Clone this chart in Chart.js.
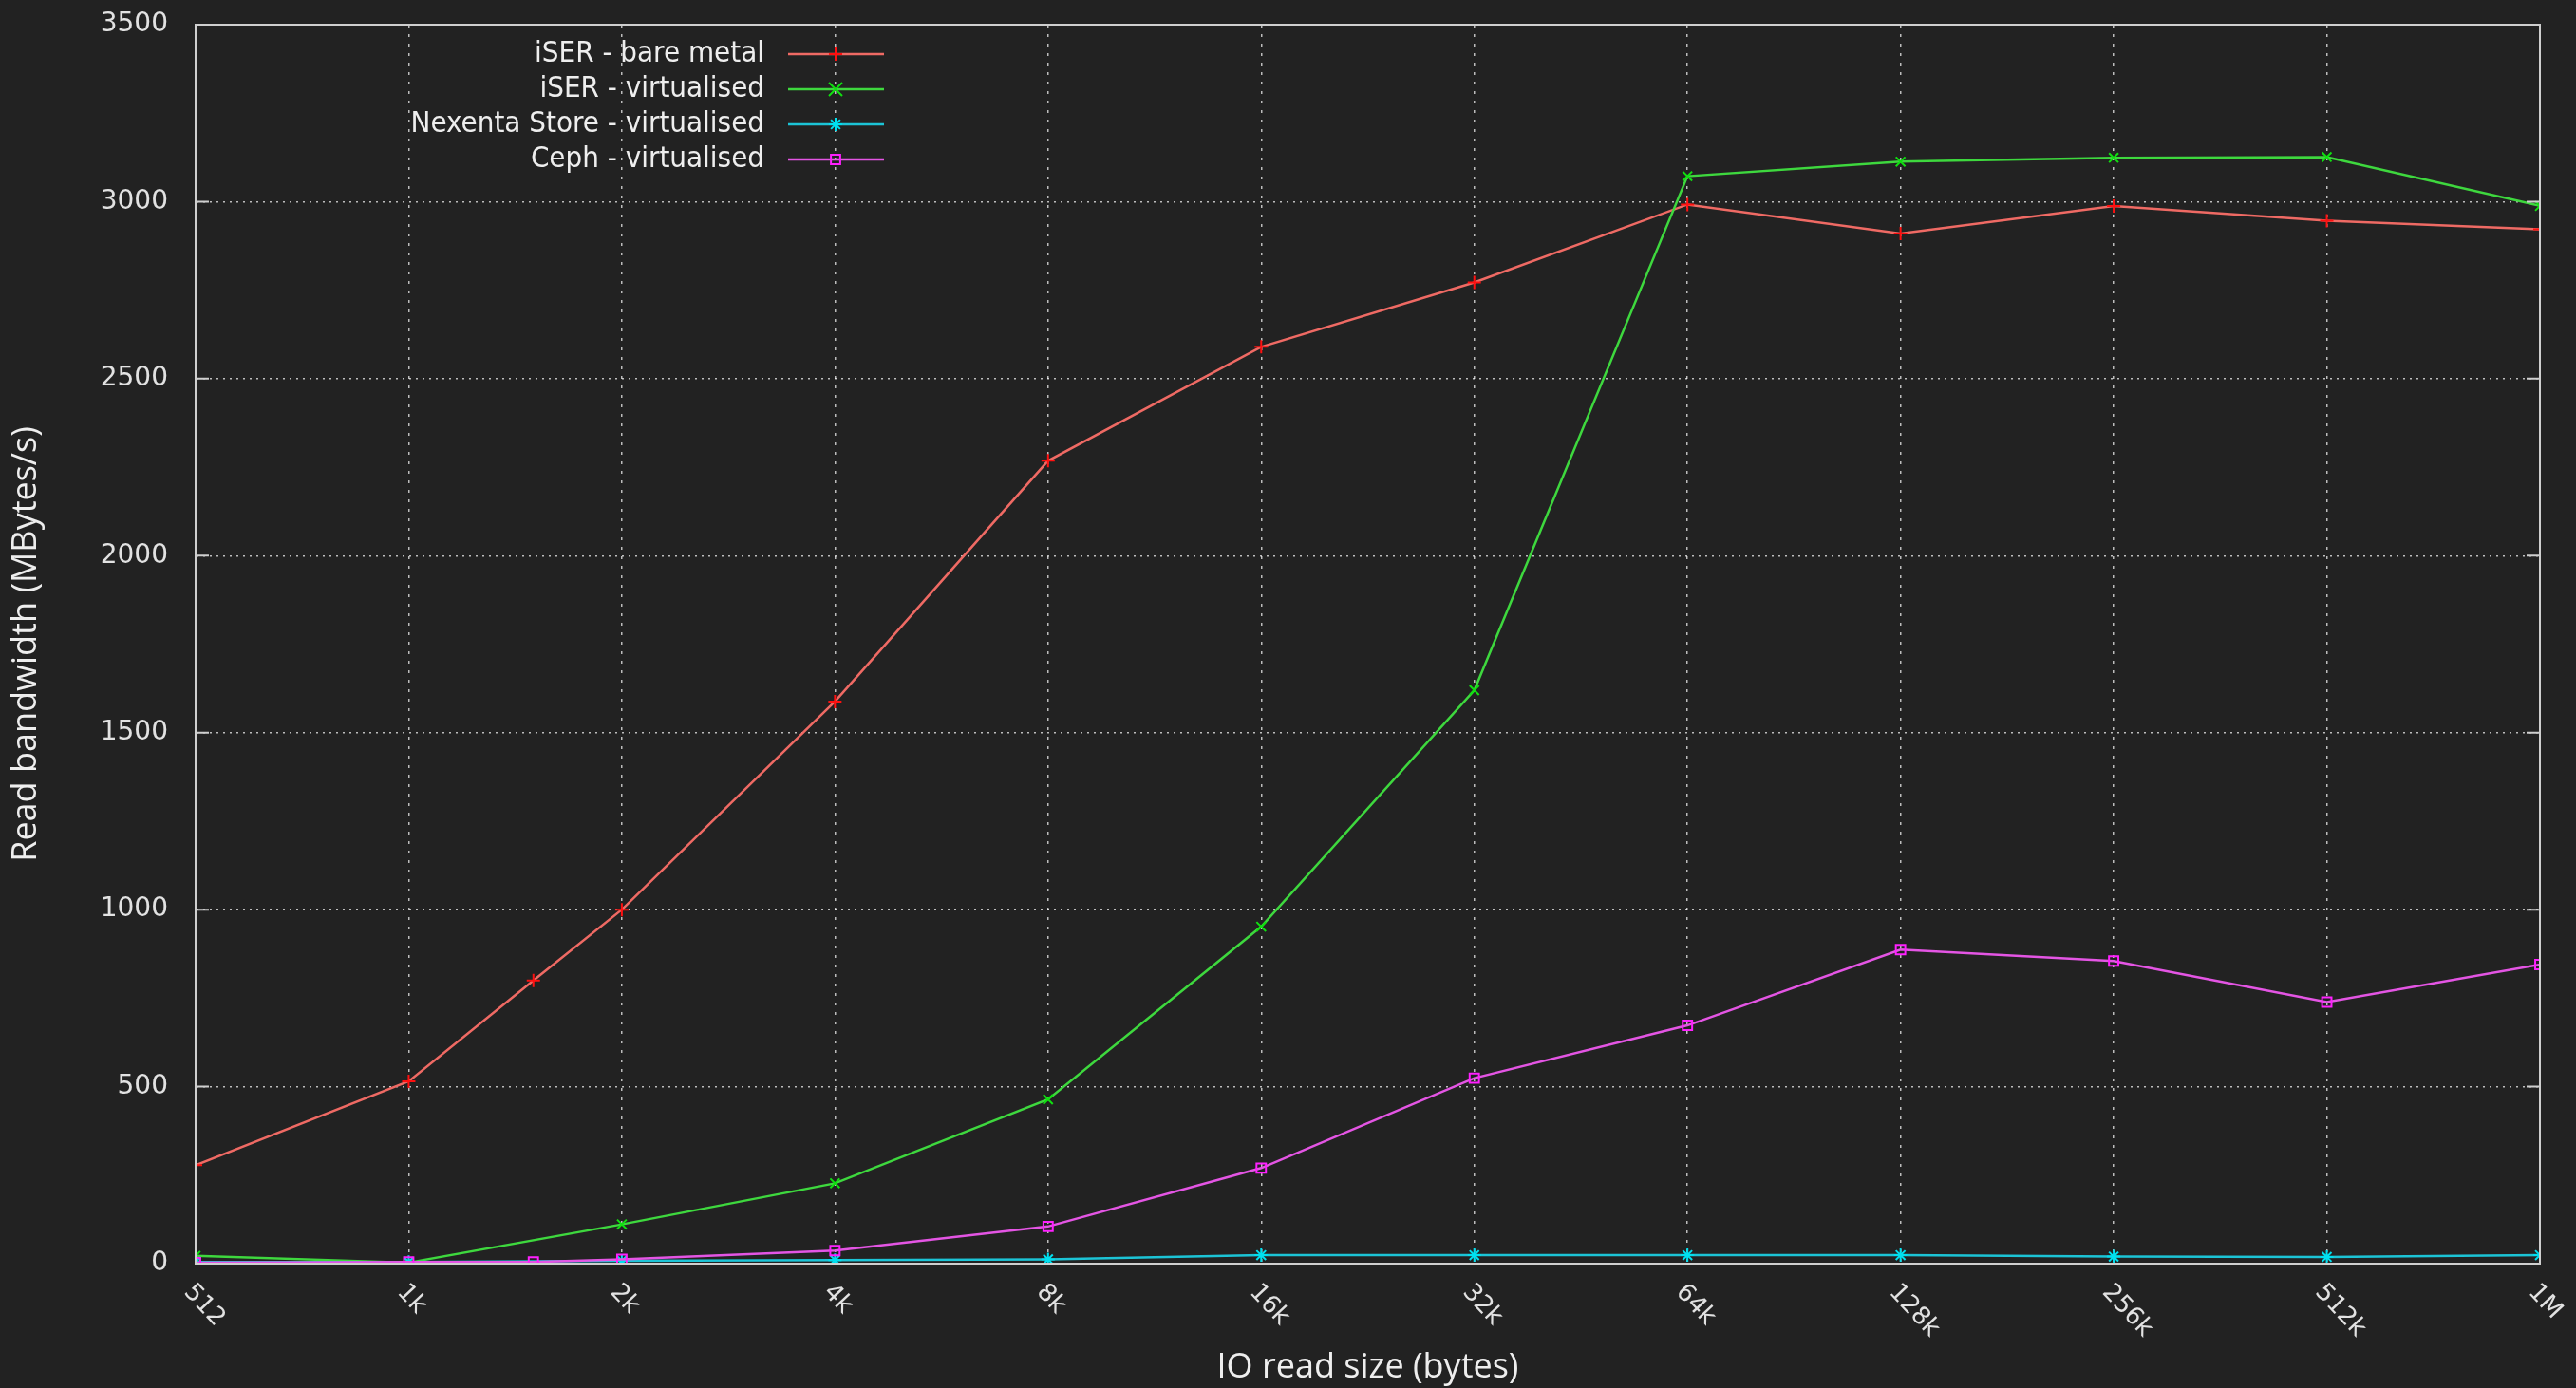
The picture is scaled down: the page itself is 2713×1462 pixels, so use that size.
<!DOCTYPE html>
<html>
<head>
<meta charset="utf-8">
<script src="https://cdn.jsdelivr.net/npm/chart.js@4/dist/chart.umd.min.js"></script>
<style>
  html, body { margin: 0; padding: 0; background: #222222; }
  #wrap { width: 2713px; height: 1462px; }
</style>
</head>
<body>
<div id="wrap"><canvas id="bwChart"></canvas></div>
<script>
// IO read sizes (bytes) and their axis labels
const tickSizes = [512, 1024, 2048, 4096, 8192, 16384, 32768, 65536, 131072, 262144, 524288, 1048576];
const sizeLabels = ['512', '1k', '2k', '4k', '8k', '16k', '32k', '64k', '128k', '256k', '512k', '1M'];
const readSizes = [512, 1024, 1536, 2048, 4096, 8192, 16384, 32768, 65536, 131072, 262144, 524288, 1048576];

// read bandwidth, MBytes/s
const iserBareMetal = [278, 515, 800, 1000, 1588, 2268, 2590, 2772, 2992, 2910, 2988, 2946, 2922];
const iserVirtualised = [22, 3, null, 111, 227, 464, 952, 1620, 3072, 3113, 3124, 3126, 2988];
const nexentaVirtualised = [5, 5, null, 8, 10, 12, 24, 24, 24, 24, 20, 19, 24];
const cephVirtualised = [3, 5, 5, 12, 37, 105, 270, 524, 673, 887, 855, 739, 845];

const yTicks = [0, 500, 1000, 1500, 2000, 2500, 3000, 3500];

const toPoints = vals => readSizes.map((s, i) => ({ x: s, y: vals[i] }));

const condensed = '"DejaVu Sans Condensed", "Liberation Sans Narrow", "Roboto Condensed", "DejaVu Sans", sans-serif';

function drawMarker(ctx, style, x, y, r) {
    ctx.beginPath();
    if (style === 'cross') {
        ctx.moveTo(x - r, y); ctx.lineTo(x + r, y);
        ctx.moveTo(x, y - r); ctx.lineTo(x, y + r);
    } else if (style === 'crossRot') {
        ctx.moveTo(x - r, y - r); ctx.lineTo(x + r, y + r);
        ctx.moveTo(x - r, y + r); ctx.lineTo(x + r, y - r);
    } else if (style === 'star') {
        ctx.moveTo(x - r, y); ctx.lineTo(x + r, y);
        ctx.moveTo(x, y - r); ctx.lineTo(x, y + r);
        ctx.moveTo(x - r * 0.7, y - r * 0.7); ctx.lineTo(x + r * 0.7, y + r * 0.7);
        ctx.moveTo(x - r * 0.7, y + r * 0.7); ctx.lineTo(x + r * 0.7, y - r * 0.7);
    } else {
        ctx.rect(x - r * 0.7, y - r * 0.7, r * 1.4, r * 1.4);
    }
    ctx.stroke();
}

const decorPlugin = {
    id: 'decor',
    afterDraw(chart) {
        const { ctx, chartArea: a, scales: { x, y } } = chart;
        ctx.save();

        // box round the plot
        ctx.strokeStyle = '#cfcfcf';
        ctx.lineWidth = 2;
        ctx.strokeRect(a.left, a.top, a.right - a.left, a.bottom - a.top);

        // small inward tick marks like gnuplot
        ctx.beginPath();
        yTicks.forEach(v => {
            const py = y.getPixelForValue(v);
            ctx.moveTo(a.left, py); ctx.lineTo(a.left + 14, py);
            ctx.moveTo(a.right, py); ctx.lineTo(a.right - 14, py);
        });
        ctx.stroke();

        // y tick labels
        ctx.fillStyle = '#e2e2e2';
        ctx.font = '28px "DejaVu Sans", sans-serif';
        ctx.textAlign = 'right';
        ctx.textBaseline = 'middle';
        yTicks.forEach(v => {
            ctx.fillText(String(v), a.left - 29, y.getPixelForValue(v));
        });

        // rotated x tick labels
        ctx.font = '26px "DejaVu Sans", sans-serif';
        ctx.textAlign = 'left';
        tickSizes.forEach((s, i) => {
            const px = x.getPixelForValue(s);
            ctx.save();
            ctx.translate(px - 8, a.bottom + 26);
            ctx.rotate(47 * Math.PI / 180);
            ctx.fillText(sizeLabels[i], 0, 0);
            ctx.restore();
        });

        // legend, text right aligned with sample to its right
        ctx.font = '31px ' + condensed;
        ctx.textAlign = 'right';
        chart.data.datasets.forEach((ds, i) => {
            const ly = a.top + 31 + i * 37;
            const tx = a.left + 599;
            ctx.fillStyle = '#eeeeee';
            ctx.fillText(ds.label, tx, ly);
            ctx.strokeStyle = ds.borderColor;
            ctx.lineWidth = 2.5;
            ctx.beginPath();
            ctx.moveTo(tx + 25, ly); ctx.lineTo(tx + 126, ly);
            ctx.stroke();
            ctx.strokeStyle = ds.pointBorderColor;
            ctx.lineWidth = 2;
            drawMarker(ctx, ds.pointStyle, tx + 75, ly, 7);
        });
        ctx.restore();
    }
};

function makeSet(label, vals, line, mark, style, order) {
    return {
        label: label,
        data: toPoints(vals),
        borderColor: line,
        backgroundColor: 'transparent',
        pointBorderColor: mark,
        pointBackgroundColor: 'transparent',
        pointStyle: style,
        pointRadius: 7,
        pointBorderWidth: 2,
        borderWidth: 2.5,
        tension: 0,
        spanGaps: true,
        order: order
    };
}

document.addEventListener('DOMContentLoaded', () => {
    new Chart(document.getElementById('bwChart').getContext('2d'), {
        type: 'line',
        data: {
            datasets: [
                makeSet('iSER - bare metal', iserBareMetal, '#ef6a64', '#ff1010', 'cross', 4),
                makeSet('iSER - virtualised', iserVirtualised, '#3ed83e', '#10e010', 'crossRot', 3),
                makeSet('Nexenta Store - virtualised', nexentaVirtualised, '#1cc4d6', '#00e0f0', 'star', 2),
                makeSet('Ceph - virtualised', cephVirtualised, '#e455e4', '#ff20ff', 'rect', 1)
            ]
        },
        options: {
            responsive: true,
            maintainAspectRatio: false,
            animation: false,
            layout: { padding: { left: 0, right: 38, top: 26, bottom: 0 } },
            plugins: {
                legend: { display: false },
                tooltip: { enabled: false }
            },
            scales: {
                x: {
                    type: 'logarithmic',
                    min: 512,
                    max: 1048576,
                    afterBuildTicks: scale => { scale.ticks = tickSizes.map(v => ({ value: v })); },
                    afterFit: scale => { scale.height = 131; scale.paddingLeft = 0; scale.paddingRight = 0; },
                    ticks: { display: false },
                    grid: {
                        color: 'rgba(255, 255, 255, 0.7)',
                        lineWidth: 1.5,
                        drawTicks: false
                    },
                    border: { display: true, color: '#cfcfcf', width: 2, dash: [3, 7] },
                    title: {
                        display: true,
                        text: 'IO read size (bytes)',
                        color: '#eeeeee',
                        font: { family: '"Open Sans", sans-serif', size: 36 },
                        padding: { top: 0, bottom: 0 }
                    }
                },
                y: {
                    min: 0,
                    max: 3500,
                    afterBuildTicks: scale => { scale.ticks = yTicks.map(v => ({ value: v })); },
                    afterFit: scale => { scale.width = 206; scale.paddingTop = 0; scale.paddingBottom = 0; },
                    ticks: { display: false },
                    grid: {
                        color: 'rgba(255, 255, 255, 0.7)',
                        lineWidth: 1.5,
                        drawTicks: false
                    },
                    border: { display: true, color: '#cfcfcf', width: 2, dash: [2, 5] },
                    title: {
                        display: true,
                        text: 'Read bandwidth (MBytes/s)',
                        color: '#eeeeee',
                        font: { family: '"Open Sans", sans-serif', size: 36 },
                        padding: { top: 6, bottom: 0 }
                    }
                }
            }
        },
        plugins: [decorPlugin]
    });
});
</script>
</body>
</html>
